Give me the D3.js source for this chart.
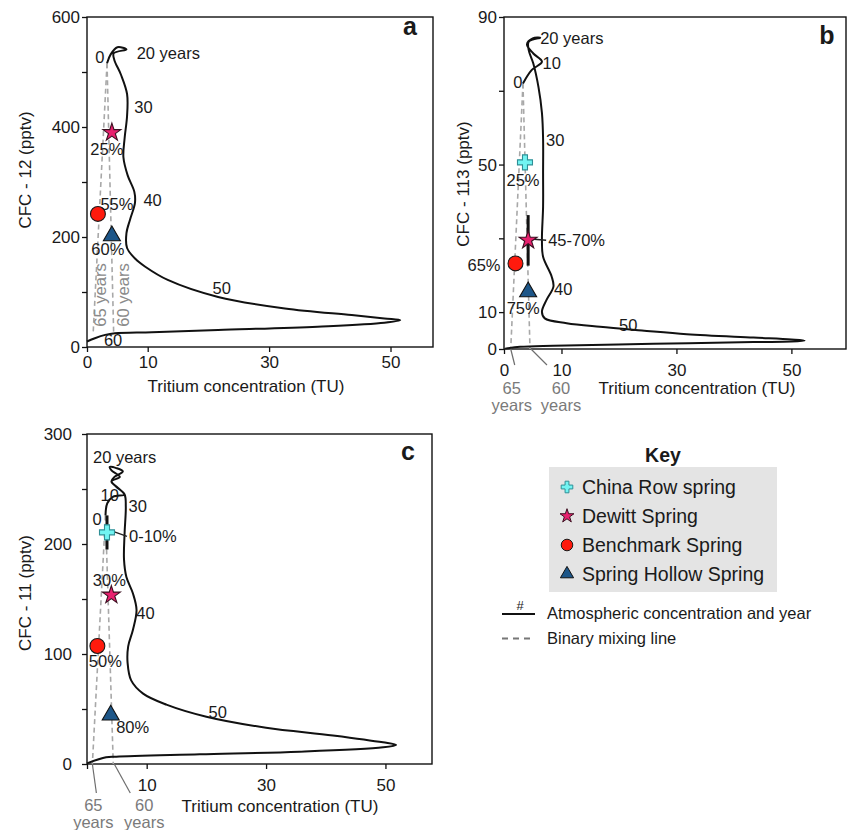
<!DOCTYPE html>
<html>
<head>
<meta charset="utf-8">
<script src="https://cdn.jsdelivr.net/npm/d3@7"></script>
<style>
  body { margin: 0; background: #fff; }
  svg text { font-family: "Liberation Sans", Arial, sans-serif; fill: #1a1a1a; }
</style>
</head>
<body>
<div id="chart"></div>
<script>
    // atmospheric curves: [tritium TU, CFC pptv], from present (0 yr) back to ~60 yr
    var curveA = [[3.3,516],[3.9,532],[5.0,545],[6.5,541],[4.4,534],[4.5,522],[5.6,495],[6.6,460],[6.6,420],[6.2,380],
      [6.0,345],[6.7,312],[7.8,282],[7.9,262],[7.1,232],[6.5,207],[6.6,180],[8.0,160],[9.6,146],[13.3,122],[21.6,91],
      [32.6,70],[43.6,58],[49,52],[51.6,49],[49,44],[38,37],[21.6,31],[10.7,27],[4.6,25],[3,22],[1.3,16],[0,10]];
    var curveB = [[3.3,72],[4.8,75.6],[6.6,77.9],[5.1,80.1],[4.0,82.6],[5.0,84.2],[6.3,84.4],[4.3,83.3],[4.3,81],[5.1,77.4],
      [6.0,71],[6.6,64],[6.8,57],[6.8,47.6],[6.8,38.6],[6.6,29.5],[6.8,25],[8.3,19.6],[8.6,16.9],[7.4,13.3],[6.6,10.1],
      [7.1,8.3],[10.9,7],[16.7,6],[24,5],[31.8,4],[43.4,3.1],[50,2.6],[52.3,2.3],[50,2.0],[43.4,1.9],[26,1.4],[8.6,0.9],
      [2.8,0.6],[0.2,0.1]];
    var curveC = [[3.1,226],[3.4,237],[4.4,243],[6.3,245],[4.9,252],[4.1,257],[5.5,261],[4.1,267],[3.8,270],[4.9,269],
      [6.0,266],[4.6,261],[4.1,257],[5.2,251],[6.3,245],[6.5,234],[6.3,210],[6.2,186],[6.6,170],[7.7,155],[8.3,140],
      [7.7,122],[6.9,107],[6.8,92],[7.4,76],[9.4,64],[13.3,54],[20,43],[30,33],[41.2,26],[49.6,19.7],[51.8,17.3],
      [49.6,15.2],[35.6,11.2],[18.9,8.8],[4.9,6.7],[3.2,6.1],[0,0.6]];

    // year labels on each curve: [text, tritium, CFC]
    var yearsA = [['0',2.1,528],['20 years',13.4,535],['30',9.3,436],['40',10.8,267],['50',22.2,107],['60',4.3,13]];
    var yearsB = [['0',2.4,72.4],['10',8.3,77.5],['20 years',11.8,84.3],['30',8.9,56.6],['40',10.3,16.4],['50',21.6,6.5]];
    var yearsC = [['20 years',6.3,278.8],['10',3.8,244.5],['30',8.5,234.5],['0',1.7,222.7],['40',9.8,137],['50',21.9,47]];

    // binary mixing lines: modern end member and old end members [age, tritium, CFC]
    var mixStartA = [3.3,516];
    var mixEndsA = [[65,1.0,22],[60,4.4,22]];
    var mixStartB = [3.3,72];
    var mixEndsB = [[65,1.17,0],[60,4.52,0]];
    var mixStartC = [3.1,226];
    var mixEndsC = [[65,0.9,0],[60,4.4,0]];

    // springs: [name, tritium, CFC, young fraction]
    var samplesA = [['Dewitt Spring',4.1,390,'25%'],['Benchmark Spring',1.8,242,'55%'],['Spring Hollow Spring',4.1,202,'60%']];
    var samplesB = [['China Row spring',3.65,50.6,'25%'],['Dewitt Spring',4.2,29.5,'45-70%'],['Benchmark Spring',2.0,23.2,'65%'],
      ['Spring Hollow Spring',4.2,15.5,'75%']];
    var samplesC = [['China Row spring',3.35,210.6,'0-10%'],['Dewitt Spring',4.08,153.6,'30%'],['Benchmark Spring',1.74,107.3,'50%'],
      ['Spring Hollow Spring',3.97,44.5,'80%']];
    var rangesB = [['Dewitt Spring',4.2,22.6,36.3]];
    var rangesC = [['China Row spring',3.35,195,226]];

    var springs = ['China Row spring','Dewitt Spring','Benchmark Spring','Spring Hollow Spring'];
    var keyLines = ['Atmospheric concentration and year','Binary mixing line'];

    var ticksXA = [0,10,30,50], labelsXA = [0,10,30,50];
    var ticksYA = [0,100,200,300,400,500,600], labelsYA = [0,200,400,600];
    var ticksXB = [0,10,30,50], labelsXB = [0,10,30,50];
    var ticksYB = [0,10,30,50,70,90], labelsYB = [0,10,50,90];
    var ticksXC = [0,10,30,50], labelsXC = [10,30,50];
    var ticksYC = [0,50,100,150,200,250,300], labelsYC = [0,100,200,300];

    var symbolOf = { 'China Row spring': d3.symbolCross, 'Dewitt Spring': d3.symbolStar,
                     'Benchmark Spring': d3.symbolCircle, 'Spring Hollow Spring': d3.symbolTriangle };
    var fillOf = { 'China Row spring': '#72f4f2', 'Dewitt Spring': '#e8206e',
                   'Benchmark Spring': '#ff1a0d', 'Spring Hollow Spring': '#1d5688' };
    var strokeOf = { 'China Row spring': '#2f8f96', 'Dewitt Spring': '#3a1020',
                     'Benchmark Spring': '#1a1a1a', 'Spring Hollow Spring': '#111' };
    var sizeOf = { 'China Row spring': 125, 'Dewitt Spring': 100, 'Benchmark Spring': 175, 'Spring Hollow Spring': 125 };

    var panels = [
      { letter:'a', curve:curveA, years:yearsA, samples:samplesA, ranges:[], mixStart:mixStartA, mixEnds:mixEndsA,
        box:[87,17,433,347], xMax:57, yMax:600, tx:ticksXA, lx:labelsXA, ty:ticksYA, ly:labelsYA, padX:4, padY:2,
        yName:'CFC - 12 (pptv)', yTitle:[25,170], xTitle:[246,386], letterPos:[410,35], endStyle:'rotated',
        offs:{ 'Dewitt Spring':[-5,16,'middle'], 'Benchmark Spring':[19,-10,'middle'], 'Spring Hollow Spring':[-4,13,'middle'] } },
      { letter:'b', curve:curveB, years:yearsB, samples:samplesB, ranges:rangesB, mixStart:mixStartB, mixEnds:mixEndsB,
        box:[504,17,846,349], xMax:59.5, yMax:90, tx:ticksXB, lx:labelsXB, ty:ticksYB, ly:labelsYB, padX:10, padY:2,
        yName:'CFC - 113 (pptv)', yTitle:[463,184], xTitle:[697,388], letterPos:[827,44], endStyle:'below', endDy:[16,39],
        offs:{ 'China Row spring':[-2,18,'middle'], 'Dewitt Spring':[20,0,'start'], 'Benchmark Spring':[-15,2,'end'],
               'Spring Hollow Spring':[-5,16,'middle'] } },
      { letter:'c', curve:curveC, years:yearsC, samples:samplesC, ranges:rangesC, mixStart:mixStartC, mixEnds:mixEndsC,
        box:[87,434,432,764], xMax:57.8, yMax:300, tx:ticksXC, lx:labelsXC, ty:ticksYC, ly:labelsYC, padX:10, padY:10,
        yName:'CFC - 11 (pptv)', yTitle:[25,593], xTitle:[280,806], letterPos:[408,460], endStyle:'below', endDy:[29,41],
        offs:{ 'China Row spring':[22,4,'start'], 'Dewitt Spring':[-2,-15,'middle'], 'Benchmark Spring':[8,15,'middle'],
               'Spring Hollow Spring':[22,12,'middle'] } }
    ];

    var svg = d3.select('#chart').append('svg').attr('width', 847).attr('height', 830);

    panels.forEach(function (p) {
      var g = svg.append('g');
      var xScale = d3.scaleLinear().domain([0, p.xMax]).range([p.box[0], p.box[2]]);
      var yScale = d3.scaleLinear().domain([0, p.yMax]).range([p.box[3], p.box[1]]);

      var xAxisCall = d3.axisBottom(xScale).tickValues(p.tx).tickSize(5).tickSizeOuter(0).tickPadding(p.padX)
        .tickFormat(function (d) { return p.lx.indexOf(d) >= 0 ? d : ''; });
      var yAxisCall = d3.axisLeft(yScale).tickValues(p.ty).tickSize(5).tickSizeOuter(0).tickPadding(p.padY)
        .tickFormat(function (d) { return p.ly.indexOf(d) >= 0 ? d : ''; });

      g.append('g').attr('transform', 'translate(0,' + p.box[3] + ')').call(xAxisCall);
      g.append('g').attr('transform', 'translate(' + p.box[0] + ',0)').call(yAxisCall);
      g.selectAll('.tick text').attr('font-size', '17px').attr('fill', '#1a1a1a');
      g.selectAll('.tick line').attr('stroke', '#111').attr('stroke-width', 1.3);
      g.selectAll('.domain').remove();

      g.append('rect').attr('x', p.box[0]).attr('y', p.box[1])
        .attr('width', p.box[2] - p.box[0]).attr('height', p.box[3] - p.box[1])
        .attr('fill', 'none').attr('stroke', '#111').attr('stroke-width', 1.4);

      g.append('text').attr('x', p.xTitle[0]).attr('y', p.xTitle[1]).attr('text-anchor', 'middle')
        .attr('dominant-baseline', 'central').attr('font-size', '17px').text('Tritium concentration (TU)');
      g.append('text').attr('transform', 'translate(' + p.yTitle[0] + ',' + p.yTitle[1] + ') rotate(-90)')
        .attr('text-anchor', 'middle').attr('dominant-baseline', 'central').attr('font-size', '17px').text(p.yName);
      g.append('text').attr('x', p.letterPos[0]).attr('y', p.letterPos[1]).attr('text-anchor', 'middle')
        .attr('font-size', '25px').attr('font-weight', 'bold').text(p.letter);

      // binary mixing lines
      p.mixEnds.forEach(function (e) {
        g.append('line').attr('x1', xScale(p.mixStart[0])).attr('y1', yScale(p.mixStart[1]))
          .attr('x2', xScale(e[1])).attr('y2', yScale(e[2]))
          .attr('stroke', '#a8a8a8').attr('stroke-width', 1.6).attr('stroke-dasharray', '5,3.5');
      });

      // end member age labels
      p.mixEnds.forEach(function (e, i) {
        var ex = xScale(e[1]);
        if (p.endStyle === 'rotated') {
          g.append('text').attr('transform', 'translate(' + (ex + (i === 0 ? 7 : 9)) + ',295) rotate(-90)')
            .attr('text-anchor', 'middle').attr('dominant-baseline', 'central').attr('font-size', '16.5px')
            .style('fill', '#8a8a8a').text(e[0] + ' years');
        } else {
          var lx = i === 0 ? 4 : 17;
          var tx = i === 0 ? 1 : 31;
          g.append('line').attr('x1', ex + (i === 0 ? 0 : 1)).attr('y1', p.box[3])
            .attr('x2', ex + lx).attr('y2', p.box[3] + p.endDy[0]).attr('stroke', '#6e6e6e').attr('stroke-width', 1.2);
          g.append('text').attr('x', ex + tx).attr('y', p.box[3] + p.endDy[1]).attr('text-anchor', 'middle')
            .attr('dominant-baseline', 'central').attr('font-size', '16.5px').style('fill', '#7a7a7a').text(e[0]);
          g.append('text').attr('x', ex + tx).attr('y', p.box[3] + p.endDy[1] + 17).attr('text-anchor', 'middle')
            .attr('dominant-baseline', 'central').attr('font-size', '16.5px').style('fill', '#7a7a7a').text('years');
        }
      });

      // atmospheric curve
      var line = d3.line().x(function (d) { return xScale(d[0]); }).y(function (d) { return yScale(d[1]); })
        .curve(d3.curveCatmullRom.alpha(0.5));
      g.append('path').datum(p.curve).attr('d', line).attr('fill', 'none')
        .attr('stroke', '#111').attr('stroke-width', 2);

      g.selectAll('.yr').data(p.years).enter().append('text')
        .attr('x', function (d) { return xScale(d[1]); }).attr('y', function (d) { return yScale(d[2]); })
        .attr('text-anchor', 'middle').attr('dominant-baseline', 'central').attr('font-size', '16.5px')
        .text(function (d) { return d[0]; });

      // ranges of the young fraction
      p.ranges.forEach(function (r) {
        g.append('line').attr('x1', xScale(r[1])).attr('x2', xScale(r[1]))
          .attr('y1', yScale(r[2])).attr('y2', yScale(r[3])).attr('stroke', '#111').attr('stroke-width', 3);
      });

      // samples
      p.samples.forEach(function (s) {
        var sx = xScale(s[1]), sy = yScale(s[2]);
        var o = p.offs[s[0]];
        if (o[2] === 'start') {
          g.append('line').attr('x1', sx + 6).attr('y1', sy - 1).attr('x2', sx + o[0] - 2).attr('y2', sy + o[1])
            .attr('stroke', '#222').attr('stroke-width', 1.4);
        }
        g.append('path').attr('d', d3.symbol().type(symbolOf[s[0]]).size(sizeOf[s[0]])())
          .attr('transform', 'translate(' + sx + ',' + sy + ')')
          .attr('fill', fillOf[s[0]]).attr('stroke', strokeOf[s[0]]).attr('stroke-width', 1.1);
        g.append('text').attr('x', sx + o[0]).attr('y', sy + o[1]).attr('text-anchor', o[2])
          .attr('dominant-baseline', 'central').attr('font-size', '16.5px').text(s[3]);
      });
    });

    // key
    var key = svg.append('g');
    key.append('text').attr('x', 663).attr('y', 455).attr('text-anchor', 'middle').attr('dominant-baseline', 'central')
      .attr('font-size', '19.5px').attr('font-weight', 'bold').text('Key');
    key.append('rect').attr('x', 549).attr('y', 467).attr('width', 228).attr('height', 125).attr('fill', '#e4e4e4');

    springs.forEach(function (s, i) {
      var row = key.append('g').attr('transform', 'translate(567,' + (487 + i * 29) + ')');
      row.append('path').attr('d', d3.symbol().type(symbolOf[s]).size(sizeOf[s] * 0.6)())
        .attr('fill', fillOf[s]).attr('stroke', strokeOf[s]).attr('stroke-width', 1);
      row.append('text').attr('x', 15).attr('dominant-baseline', 'central').attr('font-size', '19.5px').text(s);
    });

    key.append('line').attr('x1', 502).attr('x2', 535).attr('y1', 614).attr('y2', 614)
      .attr('stroke', '#111').attr('stroke-width', 2);
    key.append('text').attr('x', 520).attr('y', 605).attr('text-anchor', 'middle').attr('dominant-baseline', 'central')
      .attr('font-size', '13px').text('#');
    key.append('line').attr('x1', 502).attr('x2', 533).attr('y1', 638.5).attr('y2', 638.5)
      .attr('stroke', '#777').attr('stroke-width', 2).attr('stroke-dasharray', '6,5');

    keyLines.forEach(function (t, i) {
      key.append('text').attr('x', 547).attr('y', 613 + i * 25).attr('dominant-baseline', 'central')
        .attr('font-size', '16.5px').text(t);
    });
</script>
</body>
</html>
